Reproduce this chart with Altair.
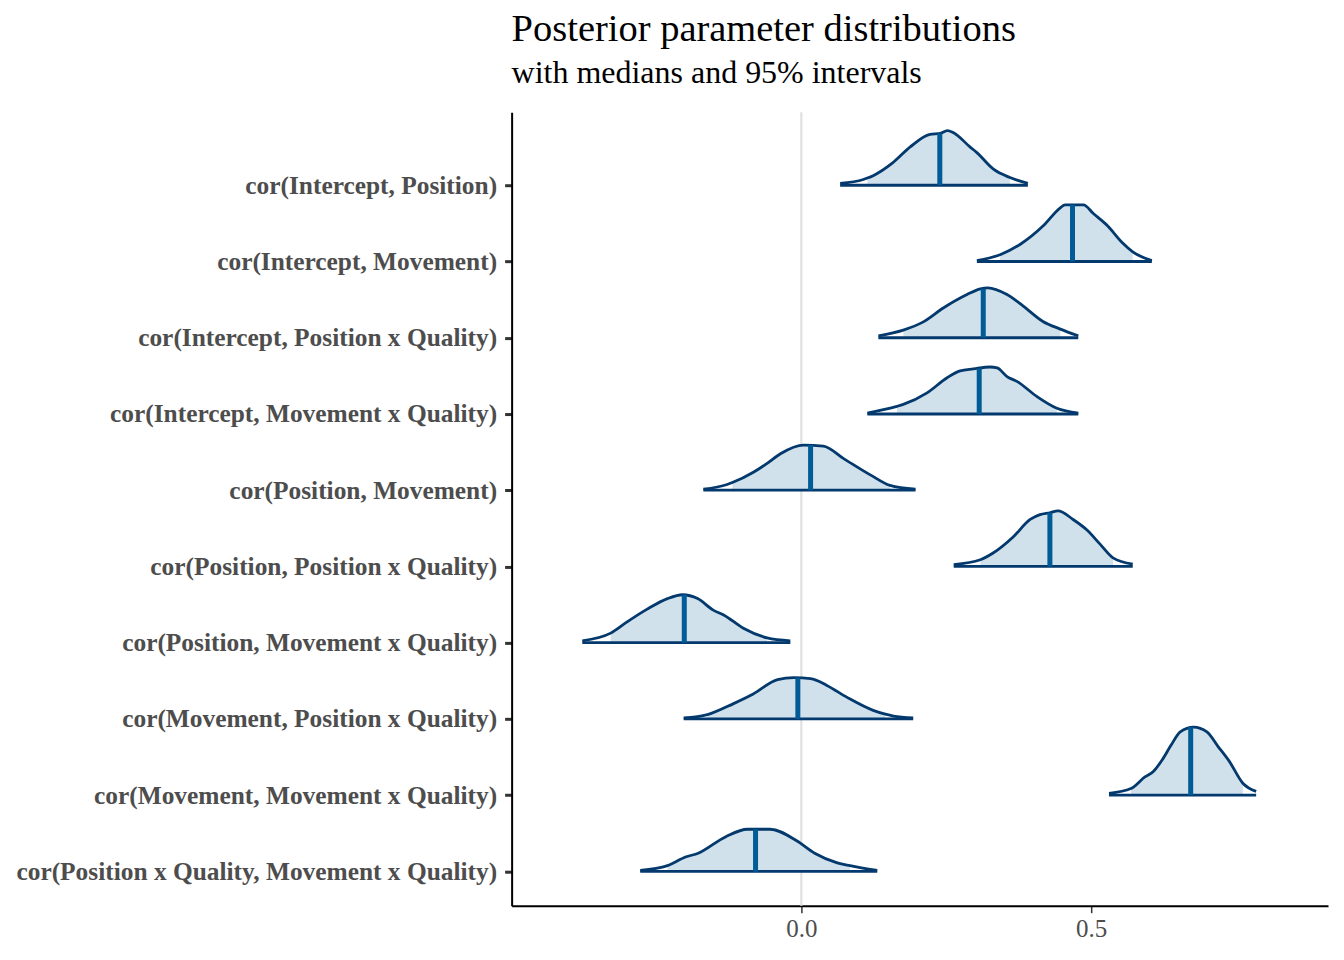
import json
import altair as alt
import pandas as pd

params = [
    "cor(Intercept, Position)",
    "cor(Intercept, Movement)",
    "cor(Intercept, Position x Quality)",
    "cor(Intercept, Movement x Quality)",
    "cor(Position, Movement)",
    "cor(Position, Position x Quality)",
    "cor(Position, Movement x Quality)",
    "cor(Movement, Position x Quality)",
    "cor(Movement, Movement x Quality)",
    "cor(Position x Quality, Movement x Quality)",
]

medians = [0.239, 0.468, 0.314, 0.307, 0.016, 0.429, -0.202, -0.006, 0.672, -0.079]
median_dens = [5.4, 5.9, 5.1, 4.75, 4.7, 5.6, 5.0, 4.3, 7.1, 4.4]
ci_lo = [0.114, 0.343, 0.176, 0.165, -0.119, 0.309, -0.329, -0.162, 0.569, -0.231]
ci_hi = [0.360, 0.572, 0.447, 0.441, 0.153, 0.538, -0.059, 0.145, 0.762, 0.084]

dens_x = [
    [0.067, 0.107, 0.114, 0.124, 0.157, 0.188, 0.222, 0.240, 0.252, 0.262, 0.291, 0.303, 0.331, 0.360, 0.391],
    [0.303, 0.343, 0.378, 0.418, 0.447, 0.455, 0.487, 0.504, 0.528, 0.555, 0.572, 0.605],
    [0.133, 0.176, 0.209, 0.245, 0.286, 0.309, 0.322, 0.355, 0.383, 0.417, 0.447, 0.478],
    [0.114, 0.165, 0.176, 0.217, 0.251, 0.274, 0.297, 0.326, 0.338, 0.355, 0.372, 0.407, 0.441, 0.478],
    [-0.169, -0.128, -0.119, -0.082, -0.059, -0.036, 0.004, 0.038, 0.073, 0.119, 0.153, 0.197],
    [0.263, 0.309, 0.331, 0.366, 0.395, 0.412, 0.429, 0.443, 0.469, 0.493, 0.516, 0.538, 0.572],
    [-0.378, -0.329, -0.300, -0.266, -0.231, -0.205, -0.179, -0.152, -0.134, -0.100, -0.059, -0.019],
    [-0.203, -0.162, -0.117, -0.083, -0.041, -0.013, 0.016, 0.044, 0.079, 0.124, 0.145, 0.159, 0.193],
    [0.531, 0.569, 0.593, 0.608, 0.623, 0.638, 0.654, 0.677, 0.700, 0.719, 0.739, 0.762, 0.785],
    [-0.278, -0.231, -0.200, -0.178, -0.131, -0.093, -0.054, -0.008, 0.023, 0.062, 0.084, 0.131],
]
dens_y = [
    [0.2, 0.6, 0.75, 1.0, 2.3, 4.0, 5.3, 5.4, 5.7, 5.5, 4.0, 3.4, 1.7, 0.8, 0.2],
    [0.1, 0.7, 1.8, 3.75, 5.6, 5.9, 5.9, 5.0, 3.75, 1.9, 1.0, 0.1],
    [0.2, 0.8, 1.6, 3.1, 4.5, 5.1, 5.2, 4.5, 3.3, 1.7, 0.9, 0.2],
    [0.1, 0.8, 1.0, 2.2, 3.75, 4.5, 4.7, 4.9, 4.8, 3.9, 3.4, 1.8, 0.6, 0.1],
    [0.1, 0.6, 0.8, 1.9, 2.8, 3.8, 4.7, 4.6, 3.3, 1.6, 0.5, 0.1],
    [0.2, 0.7, 1.4, 3.1, 4.9, 5.4, 5.6, 5.8, 4.9, 3.8, 2.3, 0.9, 0.25],
    [0.2, 1.0, 2.2, 3.5, 4.6, 5.0, 4.6, 3.4, 2.9, 1.5, 0.5, 0.2],
    [0.1, 0.45, 1.6, 2.6, 4.1, 4.3, 4.2, 3.5, 2.25, 0.9, 0.5, 0.3, 0.1],
    [0.2, 0.7, 1.9, 2.5, 3.7, 5.2, 6.6, 7.1, 6.6, 5.1, 3.5, 1.25, 0.4],
    [0.1, 0.6, 1.5, 1.9, 3.6, 4.4, 4.4, 3.2, 1.9, 0.9, 0.6, 0.1],
]

x_ticks = [0.0, 0.5]

n = len(params)
K = 0.1258  # density -> row-height scaling

rows = []
for i, p in enumerate(params):
    for xv, dv in zip(dens_x[i], dens_y[i]):
        rows.append({"param": p, "pos": n - i, "x": xv, "d": dv,
                     "lo": ci_lo[i], "hi": ci_hi[i]})
dens = pd.DataFrame(rows)

summ = pd.DataFrame({
    "param": params,
    "pos": [n - i for i in range(n)],
    "med": medians,
    "medd": median_dens,
    "xmin": [min(v) for v in dens_x],
    "xmax": [max(v) for v in dens_x],
})

SERIF = "Liberation Serif"
xscale = alt.Scale(domain=[-0.5, 0.909], nice=False, zero=False)
yscale = alt.Scale(domain=[0.551, 10.957], nice=False, zero=False)

label_expr = json.dumps(params) + "[" + str(n) + " - datum.value]"

base = alt.Chart(dens).transform_calculate(top=f"datum.pos + datum.d * {K}")

zero = alt.Chart(pd.DataFrame({"z": [0.0]})).mark_rule(
    color="#e0e0e0", strokeWidth=2.2
).encode(x=alt.X("z:Q", scale=xscale))

area = base.transform_filter(
    "datum.x >= datum.lo - 1e-9 && datum.x <= datum.hi + 1e-9"
).mark_area(color="#d1e1ec", interpolate="monotone").encode(
    x=alt.X("x:Q", scale=xscale),
    y=alt.Y("top:Q", scale=yscale),
    y2="pos:Q",
    detail="param:N",
)

outline = base.mark_line(color="#03396c", strokeWidth=2.8, interpolate="monotone").encode(
    x=alt.X("x:Q", scale=xscale),
    y=alt.Y("top:Q", scale=yscale),
    detail="param:N",
)

baseline = alt.Chart(summ).mark_rule(color="#03396c", strokeWidth=2.8).encode(
    x=alt.X("xmin:Q", scale=xscale),
    x2="xmax:Q",
    y=alt.Y("pos:Q", scale=yscale),
)

median = alt.Chart(summ).transform_calculate(
    mtop=f"datum.pos + datum.medd * {K}"
).mark_rule(color="#005b96", strokeWidth=5).encode(
    x=alt.X("med:Q", scale=xscale),
    y=alt.Y("pos:Q", scale=yscale),
    y2="mtop:Q",
)

axis_layer = alt.Chart(summ).mark_point(opacity=0).encode(
    x=alt.X("med:Q", scale=xscale, title=None,
            axis=alt.Axis(values=x_ticks, format=".1f", grid=False,
                          labelFont=SERIF, labelFontSize=25, labelColor="#4d4d4d",
                          tickColor="#333333", tickSize=7, tickWidth=1.5,
                          domainColor="#000000", domainWidth=2, labelPadding=4)),
    y=alt.Y("pos:Q", scale=yscale, title=None,
            axis=alt.Axis(values=list(range(1, n + 1)), labelExpr=label_expr, grid=False,
                          labelFont=SERIF, labelFontSize=25.4, labelFontWeight="bold",
                          labelColor="#4d4d4d", tickColor="#333333", tickSize=7,
                          tickWidth=3, domainColor="#000000", domainWidth=2,
                          labelPadding=8, labelLimit=0)),
)

chart = alt.layer(zero, area, outline, baseline, median, axis_layer).properties(
    width=817,
    height=794,
    padding={"left": 8, "top": 1, "right": 8, "bottom": 8},
    title=alt.TitleParams(
        text="Posterior parameter distributions",
        subtitle="with medians and 95% intervals",
        anchor="start",
        frame="group",
        font=SERIF,
        fontSize=38.5,
        fontWeight="normal",
        color="#000000",
        subtitleFont=SERIF,
        subtitleFontSize=32,
        subtitleColor="#000000",
        subtitlePadding=9,
        offset=21,
    ),
).configure_view(stroke=None)

chart.save("out.html", embed_options={"renderer": "svg", "actions": False})
